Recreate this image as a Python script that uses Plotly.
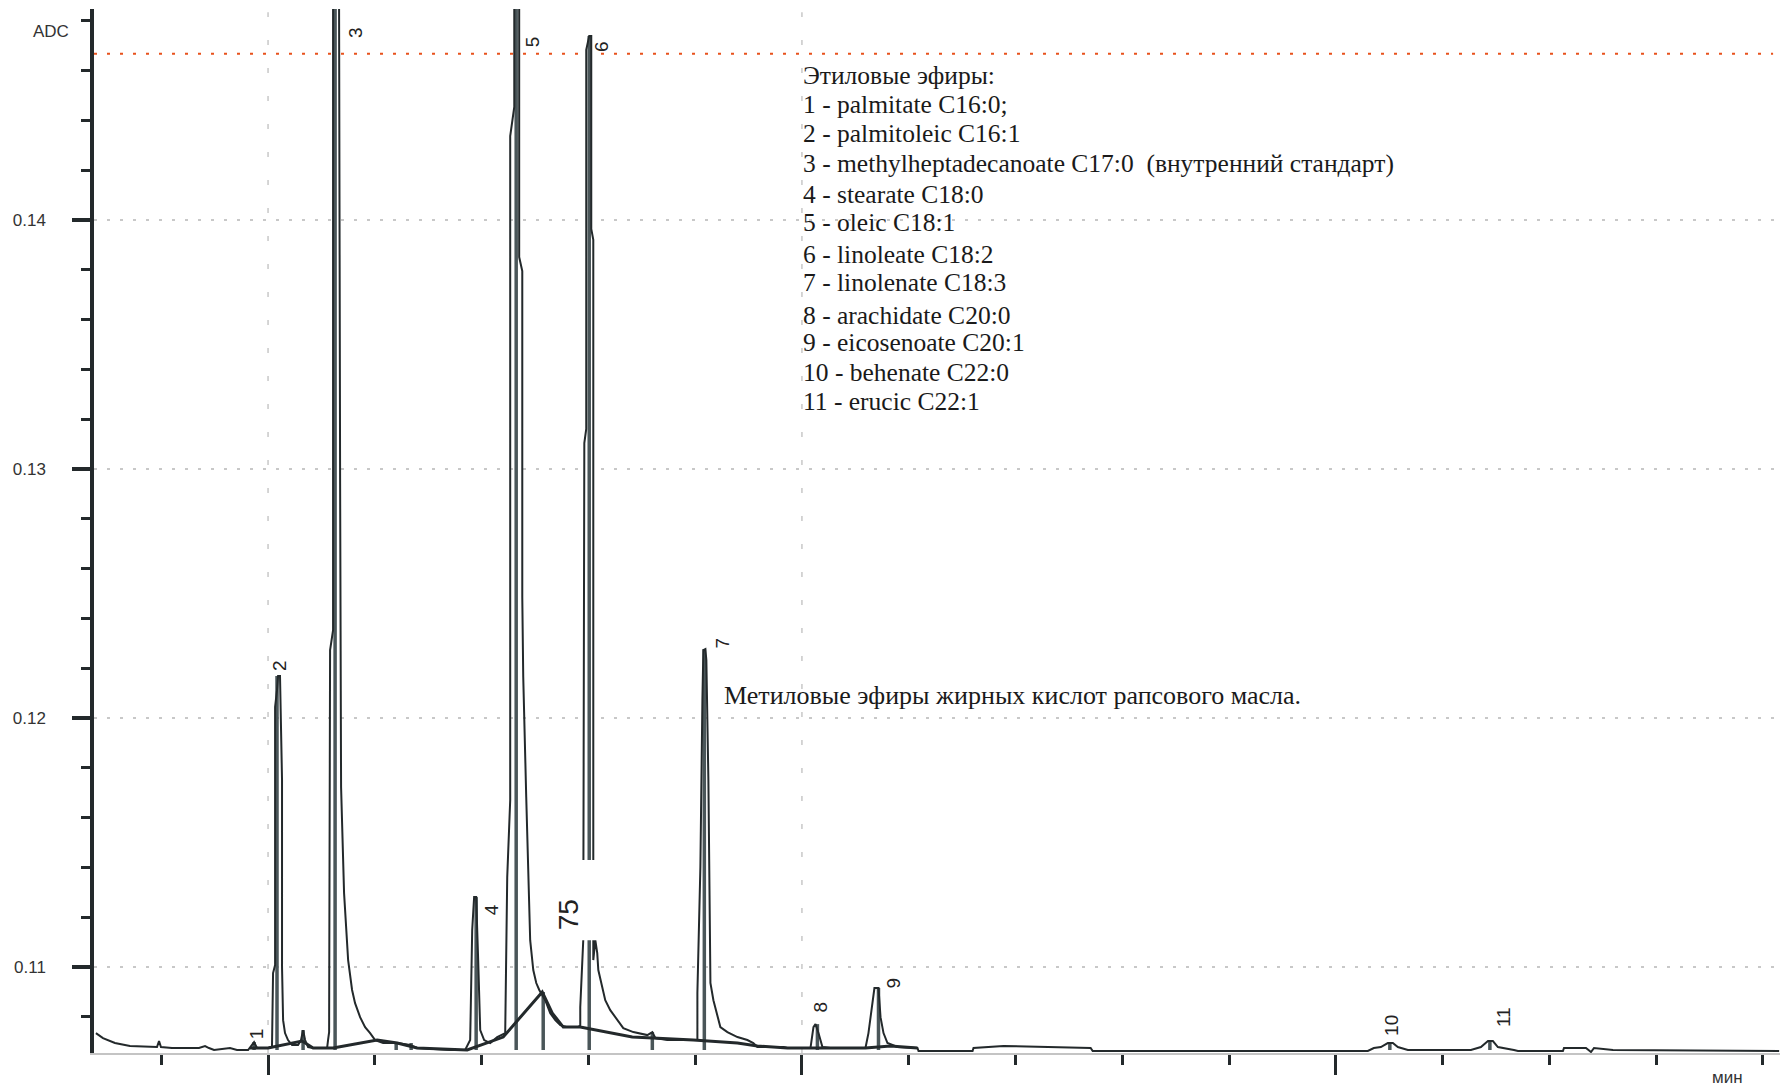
import plotly.graph_objects as go

# ---------------- data ----------------
# retention time (min) and detector signal (ADC units)
time_min = [8.388, 8.454, 8.566, 8.707, 8.960, 8.979, 8.997, 9.100, 9.353, 9.410, 9.447, 9.494,
            9.644, 9.709, 9.813, 9.850, 9.869, 9.897, 10.000, 10.037, 10.047, 10.066, 10.066,
            10.084, 10.094, 10.112, 10.131, 10.131, 10.141, 10.159, 10.187, 10.225, 10.281,
            10.309, 10.328, 10.347, 10.375, 10.422, 10.553, 10.562, 10.572, 10.581, 10.609,
            10.609, 10.665, 10.675, 10.684, 10.712, 10.740, 10.750, 10.787, 10.815, 10.862,
            10.909, 10.956, 11.003, 11.078, 11.209, 11.331, 11.396, 11.706, 11.846, 11.893,
            11.912, 11.930, 11.949, 11.968, 11.987, 12.024, 12.081, 12.146, 12.221, 12.240,
            12.268, 12.268, 12.306, 12.306, 12.352, 12.352, 12.381, 12.381, 12.390, 12.418,
            12.437, 12.455, 12.484, 12.512, 12.540, 12.596, 12.643, 12.690, 12.737, 12.802,
            12.905, 12.924, 12.924, 12.952, 12.962, 12.980, 12.980, 13.008, 13.027, 13.027,
            13.046, 13.046, 13.065, 13.083, 13.093, 13.130, 13.158, 13.205, 13.271, 13.327,
            13.421, 13.552, 13.599, 13.627, 13.739, 14.021, 14.021, 14.049, 14.068, 14.077,
            14.096, 14.105, 14.124, 14.143, 14.171, 14.208, 14.236, 14.302, 14.396, 14.489,
            14.545, 14.583, 14.827, 14.864, 15.080, 15.108, 15.127, 15.155, 15.192, 15.267,
            15.595, 15.623, 15.661, 15.679, 15.717, 15.736, 15.764, 15.801, 15.895, 16.082,
            16.092, 16.598, 16.607, 16.888, 17.704, 17.723, 20.300, 20.356, 20.422, 20.487,
            20.534, 20.581, 20.675, 21.265, 21.359, 21.425, 21.471, 21.518, 21.668, 21.706,
            22.127, 22.137, 22.343, 22.390, 22.418, 22.596, 24.152]
adc = [0.10735, 0.10715, 0.10695, 0.10683, 0.10679, 0.10703, 0.10679, 0.10675, 0.10675, 0.10683,
       0.10675, 0.10667, 0.10675, 0.10667, 0.10667, 0.10687, 0.10699, 0.10675, 0.10675, 0.10683,
       0.10976, 0.11008, 0.12044, 0.12112, 0.12169, 0.12169, 0.11751, 0.11000, 0.10787, 0.10735,
       0.10707, 0.10687, 0.10687, 0.10707, 0.10747, 0.10707, 0.10679, 0.10675, 0.10675, 0.10707,
       0.10739, 0.12273, 0.12353, 0.14900, 0.14900, 0.12940, 0.11723, 0.11297, 0.11096, 0.11028,
       0.10908, 0.10855, 0.10799, 0.10759, 0.10735, 0.10707, 0.10695, 0.10695, 0.10687, 0.10675,
       0.10667, 0.10667, 0.10707, 0.11149, 0.11281, 0.11281, 0.11028, 0.10747, 0.10707, 0.10695,
       0.10719, 0.10735, 0.11361, 0.11671, 0.14337, 0.14454, 0.14900, 0.14900, 0.13851, 0.13795,
       0.12486, 0.12165, 0.11683, 0.11361, 0.11108, 0.10988, 0.10936, 0.10908, 0.10867, 0.10815,
       0.10787, 0.10767, 0.10759, 0.10759, 0.10767, 0.10839, 0.11108, 0.13104, 0.13161, 0.14683,
       0.14739, 0.14739, 0.13964, 0.13920, 0.11028, 0.11108, 0.11056, 0.10988, 0.10920, 0.10867,
       0.10827, 0.10787, 0.10755, 0.10739, 0.10727, 0.10739, 0.10715, 0.10707, 0.10707, 0.10896,
       0.11402, 0.12072, 0.12273, 0.12277, 0.12233, 0.11751, 0.10936, 0.10867, 0.10799, 0.10759,
       0.10739, 0.10719, 0.10707, 0.10695, 0.10679, 0.10679, 0.10675, 0.10675, 0.10759, 0.10771,
       0.10735, 0.10679, 0.10675, 0.10675, 0.10735, 0.10867, 0.10916, 0.10916, 0.10799, 0.10735,
       0.10695, 0.10679, 0.10675, 0.10663, 0.10663, 0.10675, 0.10683, 0.10675, 0.10663, 0.10663,
       0.10675, 0.10679, 0.10695, 0.10695, 0.10679, 0.10667, 0.10667, 0.10679, 0.10703, 0.10703,
       0.10679, 0.10667, 0.10663, 0.10663, 0.10675, 0.10675, 0.10659, 0.10675, 0.10667, 0.10663]

# integration baseline drawn by the software
baseline_time = [9.831, 10.000, 10.319, 10.422, 10.609, 11.022, 11.209, 11.396, 11.865, 12.202,
                 12.568, 12.662, 12.765, 12.924, 13.411, 13.608, 13.983, 14.396, 14.583, 14.864,
                 15.595, 15.829, 16.082]
baseline_adc = [0.10675, 0.10675, 0.10703, 0.10675, 0.10675, 0.10707, 0.10695, 0.10675, 0.10667,
                0.10719, 0.10900, 0.10815, 0.10759, 0.10759, 0.10719, 0.10715, 0.10707, 0.10695,
                0.10683, 0.10675, 0.10675, 0.10683, 0.10675]

# retention-time markers (apex lines)
marker_time = [9.869, 10.084, 10.328, 10.628, 11.200, 11.340, 11.949, 12.324, 12.577, 13.008,
               13.599, 14.086, 15.145, 15.717, 20.506, 21.443]
marker_top = [0.10699, 0.12169, 0.10747, 0.14900, 0.10699, 0.10695, 0.11281, 0.14900, 0.10900,
              0.14739, 0.10739, 0.12277, 0.10771, 0.10916, 0.10695, 0.10703]
MARKER_BASE = 0.10667

# peak labels
peak_labels = ["1", "2", "3", "4", "5", "6", "75", "7", "8", "9", "10", "11"]
label_time = [9.888, 10.112, 10.825, 12.090, 12.484, 13.130, 12.812, 14.255, 15.173, 15.857,
              20.515, 21.565]
label_adc = [0.10731, 0.12209, 0.14751, 0.11229, 0.14715, 0.14695, 0.11209, 0.12301, 0.10839,
             0.10936, 0.10767, 0.10799]

legend_lines = [
    "Этиловые эфиры:",
    "1 - palmitate C16:0;",
    "2 - palmitoleic C16:1",
    "3 - methylheptadecanoate C17:0  (внутренний стандарт)",
    "4 - stearate C18:0",
    "5 - oleic C18:1",
    "6 - linoleate C18:2",
    "7 - linolenate C18:3",
    "8 - arachidate C20:0",
    "9 - eicosenoate C20:1",
    "10 - behenate C22:0",
    "11 - erucic C22:1",
]
legend_y = [0.14578, 0.14462, 0.14349, 0.14225, 0.14104, 0.13988, 0.13863, 0.13747, 0.13618,
            0.13506, 0.13386, 0.13269]
caption = "Метиловые эфиры жирных кислот рапсового масла."
REF_LINE = 0.14667

X_RANGE = [8.37, 24.16]
Y_RANGE = [0.10655, 0.14847]

DARK = "#23292b"
GRID = "#c8c8c8"

# ---------------- figure ----------------
fig = go.Figure()

mx, my = [], []
for t, top in zip(marker_time, marker_top):
    mx += [t, t, None]
    my += [MARKER_BASE, top, None]
fig.add_trace(go.Scatter(x=mx, y=my, mode="lines",
                         line=dict(color="#4a5659", width=3.5), hoverinfo="skip"))

fig.add_trace(go.Scatter(x=time_min, y=adc, mode="lines",
                         line=dict(color=DARK, width=2), hoverinfo="skip"))

fig.add_trace(go.Scatter(x=baseline_time, y=baseline_adc, mode="lines",
                         line=dict(color=DARK, width=3), hoverinfo="skip"))

shapes = []
# vertical dashed grid lines
for gx in [10, 15]:
    shapes.append(dict(type="line", xref="x", yref="paper", x0=gx, x1=gx, y0=0, y1=0.997,
                       line=dict(color=GRID, width=1.5, dash="5px,23px"), layer="below"))
# orange reference line
shapes.append(dict(type="line", xref="paper", yref="y", x0=0, x1=0.9959, y0=REF_LINE, y1=REF_LINE,
                   line=dict(color="#e8521c", width=2, dash="3px,10px"), layer="below"))
# white box behind "75"
shapes.append(dict(type="rect", xref="x", yref="y", x0=12.60, x1=13.093, y0=0.11108, y1=0.11430,
                   fillcolor="white", line=dict(width=0), layer="above"))

SANS = "Liberation Sans, Arial"
SERIF = "Liberation Serif, Times New Roman"

annotations = []
for lab, tx, ty in zip(peak_labels, label_time, label_adc):
    annotations.append(dict(x=tx, y=ty, xref="x", yref="y", text=lab, showarrow=False,
                            textangle=-90, xanchor="center", yanchor="middle",
                            font=dict(family=SANS, size=28 if lab == "75" else 19,
                                      color="#222222")))
for line, ly in zip(legend_lines, legend_y):
    annotations.append(dict(x=14.99, y=ly, xref="x", yref="y", text=line, showarrow=False,
                            xanchor="left", yanchor="middle",
                            font=dict(family=SERIF, size=25.5, color="#1a1a1a")))
annotations.append(dict(x=14.255, y=0.12092, xref="x", yref="y", text=caption, showarrow=False,
                        xanchor="left", yanchor="middle",
                        font=dict(family=SERIF, size=26, color="#1a1a1a")))
annotations.append(dict(x=-0.0136, y=0.14755, xref="paper", yref="y", text="ADC", showarrow=False,
                        xanchor="right", yanchor="middle",
                        font=dict(family=SANS, size=17, color="#333333")))
annotations.append(dict(x=0.9686, y=-0.023, xref="paper", yref="paper", text="мин", showarrow=False,
                        xanchor="center", yanchor="middle",
                        font=dict(family=SANS, size=17, color="#333333")))

fig.update_layout(
    width=1786, height=1089,
    margin=dict(l=94, r=6, t=9, b=36),
    paper_bgcolor="white", plot_bgcolor="white",
    showlegend=False,
    shapes=shapes, annotations=annotations,
    xaxis=dict(range=X_RANGE, showgrid=False, zeroline=False,
               showline=True, linecolor="#c4c4c4", linewidth=1.5,
               ticks="outside", tick0=10, dtick=5, ticklen=20, tickwidth=3, tickcolor=DARK,
               showticklabels=False,
               minor=dict(dtick=1, tick0=10, ticks="outside", ticklen=10, tickwidth=2.5,
                          tickcolor=DARK, showgrid=False)),
    yaxis=dict(range=Y_RANGE, zeroline=False,
               showline=True, linecolor=DARK, linewidth=3.5,
               showgrid=True, gridcolor=GRID, gridwidth=1.5, griddash="3px,10px",
               ticks="outside", tick0=0.11, dtick=0.01, ticklen=18, tickwidth=3.5, tickcolor=DARK,
               tickformat=".2f", ticklabelstandoff=23,
               tickfont=dict(family=SANS, size=17, color="#333333"),
               minor=dict(dtick=0.002, tick0=0.11, ticks="outside", ticklen=9, tickwidth=3,
                          tickcolor=DARK, showgrid=False)),
)

fig.write_html("out.html", config={"displayModeBar": False},
               post_script="document.body.style.margin='0';document.body.style.overflow='hidden';")
